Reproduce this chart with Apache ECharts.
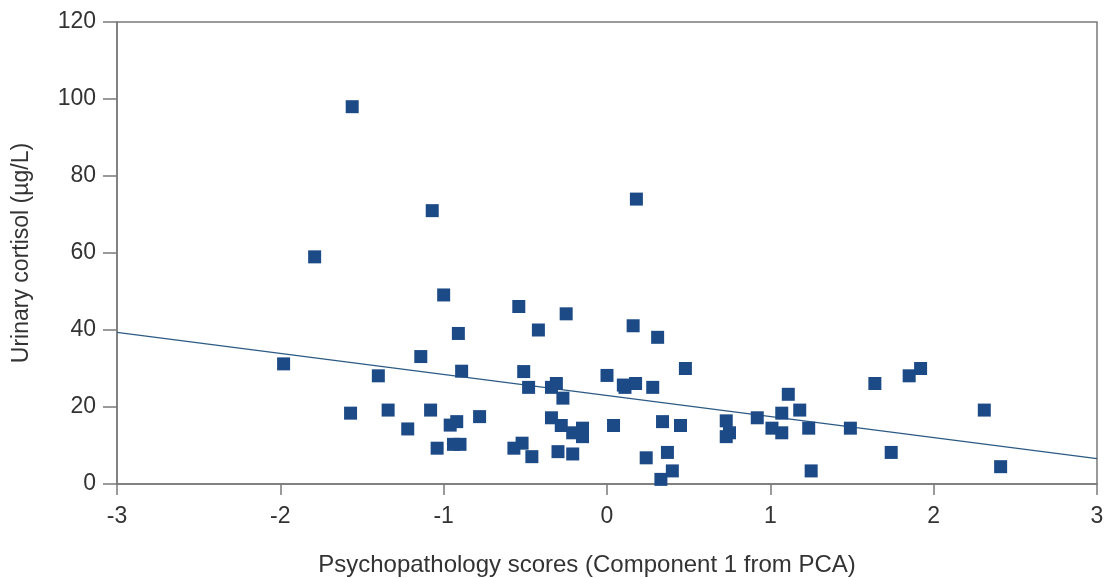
<!DOCTYPE html>
<html>
<head>
<meta charset="utf-8">
<script src="https://cdn.jsdelivr.net/npm/echarts@6/dist/echarts.min.js"></script>
<style>html,body{margin:0;padding:0;background:#fff}#c{width:1104px;height:578px}</style>
</head>
<body>
<div id="c"></div>
<script>
// Psychopathology score (x) vs urinary cortisol µg/L (y)
const scores = [
  -1.56, -1.79, -1.07, 0.18,
  -1.98, -1.57, -1.40, -1.34, -1.22, -1.14, -1.08, -1.04, -1.00, -0.96, -0.94, -0.91, -0.89, -0.90, -0.92, -0.78,
  -0.54, -0.25, -0.42, 0.16, 0.31, 0.48, -0.51, -0.48, -0.34, -0.31, -0.27, 0.00, 0.10, 0.11, 0.175, 0.28,
  -0.34, -0.28, -0.21, -0.15, -0.15, 0.04, 0.34, 0.45, 0.73, 0.75, 0.73, 0.92, 1.01, 1.07, 1.07, 1.11,
  1.18, 1.235, 1.25, 1.49, 1.64, 1.74, 1.85, 1.92, 2.31, 2.41,
  -0.57, -0.52, -0.46, -0.30, -0.21, 0.24, 0.37, 0.40, 0.33
];
const cortisol = [
  98, 59, 71, 74,
  31.2, 18.4, 28.1, 19.2, 14.3, 33.1, 19.2, 9.3, 49.1, 15.3, 10.3, 39.1, 29.3, 10.3, 16.2, 17.5,
  46.1, 44.2, 40.0, 41.1, 38.1, 30.0, 29.2, 25.1, 25.1, 26.1, 22.3, 28.2, 25.7, 25.1, 26.1, 25.1,
  17.2, 15.2, 13.3, 14.5, 12.3, 15.2, 16.2, 15.2, 16.4, 13.3, 12.3, 17.2, 14.5, 13.3, 18.4, 23.3,
  19.2, 14.5, 3.4, 14.5, 26.1, 8.2, 28.1, 30.0, 19.2, 4.5,
  9.3, 10.6, 7.1, 8.4, 7.8, 6.8, 8.2, 3.4, 1.2
];
const trendX = [-3, 3];
const trendY = [39.4, 6.6];
const xTicks = [-3, -2, -1, 0, 1, 2, 3];
const yTicks = [0, 20, 40, 60, 80, 100, 120];

const points = scores.map((x, i) => [x, cortisol[i]]);
const trend = trendX.map((x, i) => [x, trendY[i]]);

const chart = echarts.init(document.getElementById('c'), null, {renderer: 'canvas'});
const axisColor = '#7a7a7a';
const font = 'Liberation Sans, Arial, sans-serif';
const labelStyle = {color: '#333', fontFamily: font, fontSize: 23};
chart.setOption({
  animation: false,
  backgroundColor: '#fff',
  grid: {left: 117, right: 7, top: 22, bottom: 94, outerBoundsMode: 'none', containLabel: false,
         show: true, borderColor: axisColor, borderWidth: 1.5, backgroundColor: 'transparent'},
  xAxis: {
    type: 'value', min: xTicks[0], max: xTicks[xTicks.length - 1], interval: 1,
    name: 'Psychopathology scores (Component 1 from PCA)',
    nameLocation: 'middle', nameGap: 69,
    nameTextStyle: {color: '#333', fontFamily: font, fontSize: 24, padding: [0, 40, 0, 0]},
    axisLine: {show: true, onZero: false, lineStyle: {color: axisColor, width: 1.5}},
    axisTick: {show: true, length: 11, lineStyle: {color: axisColor, width: 1.5}},
    axisLabel: Object.assign({margin: 21, showMinLabel: true, showMaxLabel: true}, labelStyle),
    splitLine: {show: false}
  },
  yAxis: {
    type: 'value', min: yTicks[0], max: yTicks[yTicks.length - 1], interval: 20,
    name: 'Urinary cortisol (µg/L)',
    nameLocation: 'middle', nameGap: 84,
    nameTextStyle: {color: '#333', fontFamily: font, fontSize: 23},
    axisLine: {show: true, onZero: false, lineStyle: {color: axisColor, width: 1.5}},
    axisTick: {show: true, length: 14, lineStyle: {color: axisColor, width: 1.5}},
    axisLabel: Object.assign({margin: 21}, labelStyle),
    splitLine: {show: false}
  },
  series: [
    {
      type: 'line', data: trend, showSymbol: false, symbol: 'none',
      lineStyle: {color: '#2c5a85', width: 1.2}, silent: true, z: 2
    },
    {
      type: 'scatter', data: points, symbol: 'rect', symbolSize: 13,
      itemStyle: {color: '#1c4a86', opacity: 1}, z: 3
    }
  ]
});
</script>
</body>
</html>
